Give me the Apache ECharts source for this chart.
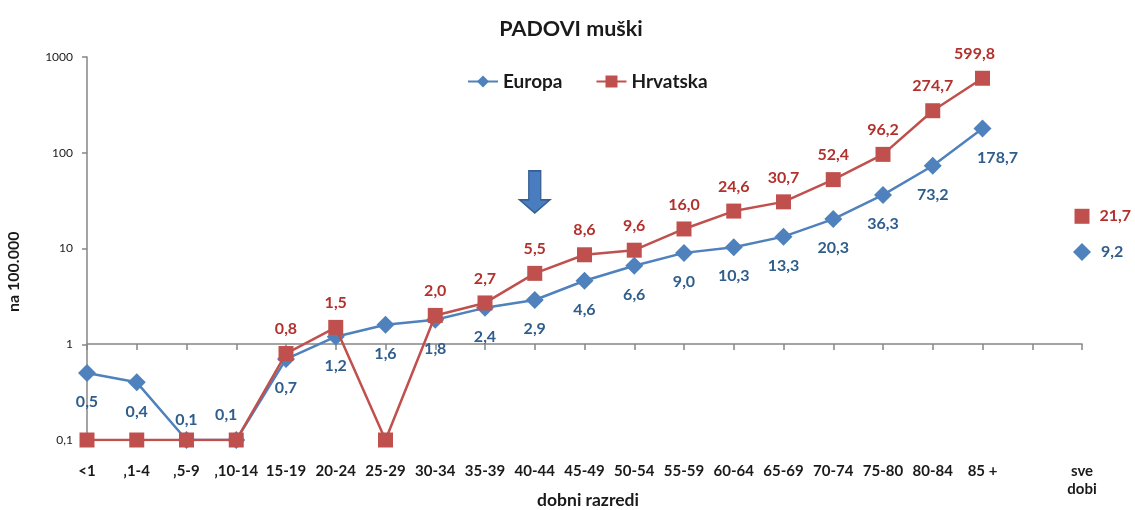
<!DOCTYPE html>
<html>
<head>
<meta charset="utf-8">
<title>PADOVI muški</title>
<script src="https://cdn.jsdelivr.net/npm/echarts@6/dist/echarts.min.js"></script>
<style>
  html, body { margin: 0; padding: 0; background: #fff; }
  #chart { width: 1135px; height: 510px; }
</style>
</head>
<body>
<div id="chart"></div>
<script>
// Age groups (an empty slot separates the "all ages" point)
const categories = ['<1', '\u201A1-4', '\u201A5-9', '\u201A10-14', '15-19', '20-24', '25-29', '30-34', '35-39',
  '40-44', '45-49', '50-54', '55-59', '60-64', '65-69', '70-74', '75-80', '80-84', '85 +', '', 'sve\ndobi'];

// Fall deaths per 100 000, males
const europa = [0.5, 0.4, 0.1, 0.1, 0.7, 1.2, 1.6, 1.8, 2.4, 2.9, 4.6, 6.6, 9.0, 10.3, 13.3, 20.3, 36.3, 73.2, 178.7, null, 9.2];
const hrvatska = [0.1, 0.1, 0.1, 0.1, 0.8, 1.5, 0.1, 2.0, 2.7, 5.5, 8.6, 9.6, 16.0, 24.6, 30.7, 52.4, 96.2, 274.7, 599.8, null, 21.7];

// Hrvatska points at the axis floor carry no value label
const hrvatskaUnlabeled = [0, 1, 2, 3, 6];

// Highlight arrow over the 40-44 group
const arrowCategory = '40-44';
const arrowValue = 39;

const FONT = 'Lato, "Open Sans", sans-serif';
const BLUE = '#4f81bd';
const RED = '#c0504d';
const BLUE_TXT = '#2f5d8c';
const RED_TXT = '#b3312d';
const LAST = categories.length - 1;

const fmt = v => v.toFixed(1).replace('.', ',');

const baseLabel = color => ({
  show: true,
  color: color,
  fontFamily: FONT,
  fontWeight: 'bold',
  fontSize: 16,
  formatter: p => fmt(p.value)
});

// Per-point label placement tweaks
const europaData = europa.map((v, i) => {
  if (v === null) return null;
  const label = {};
  if (i === 2) { label.position = 'top'; label.distance = 3; }
  if (i === 3) { label.position = 'top'; label.distance = 8; label.offset = [-10, 0]; }
  if (i === 18) { label.offset = [15, 0]; }
  if (i === LAST) { label.position = 'right'; label.distance = 10; }
  return { value: v, label: label };
});

const hrvatskaData = hrvatska.map((v, i) => {
  if (v === null) return null;
  const label = {};
  if (hrvatskaUnlabeled.includes(i)) label.show = false;
  if (i === 18) { label.offset = [-8, 0]; }
  if (i === LAST) { label.position = 'right'; label.distance = 10; }
  return { value: v, label: label };
});

const chart = echarts.init(document.getElementById('chart'), null, { renderer: 'canvas' });

chart.setOption({
  animation: false,
  backgroundColor: '#fff',
  title: [
    {
      text: 'PADOVI muški',
      left: 566, top: 13, textAlign: 'center',
      textStyle: { fontFamily: FONT, fontWeight: 'bold', fontSize: 21.5, color: '#1a1a1a' }
    },
    {
      text: 'dobni razredi',
      left: 583, top: 486, textAlign: 'center',
      textStyle: { fontFamily: FONT, fontWeight: 'bold', fontSize: 17.5, color: '#1a1a1a' }
    }
  ],
  legend: {
    top: 67,
    left: 462,
    itemGap: 33,
    itemWidth: 30,
    itemHeight: 15,
    textStyle: { fontFamily: FONT, fontWeight: 'bold', fontSize: 19, color: '#1a1a1a' },
    data: ['Europa', 'Hrvatska']
  },
  graphic: [
    {
      type: 'text',
      x: 14, y: 312,
      rotation: Math.PI / 2,
      style: {
        text: 'na 100.000',
        font: 'bold 16px ' + FONT,
        fill: '#1a1a1a',
        textAlign: 'left',
        textVerticalAlign: 'middle'
      }
    }
  ],
  grid: { left: 87, right: 53, top: 57, bottom: 70, containLabel: false },
  xAxis: [
    {
      // axis line drawn through 1 with tick marks
      type: 'category',
      data: categories,
      boundaryGap: false,
      position: 'bottom',
      offset: -96,
      axisLine: { show: true, onZero: false, lineStyle: { color: '#868686', width: 1.5 } },
      axisTick: { show: true, length: 6, inside: false, lineStyle: { color: '#868686', width: 1.5 } },
      axisLabel: { show: false },
      splitLine: { show: false }
    },
    {
      // category labels along the bottom
      type: 'category',
      data: categories,
      boundaryGap: false,
      position: 'bottom',
      axisLine: { show: false, onZero: false },
      axisTick: { show: false },
      axisLabel: {
        show: true,
        interval: 0,
        margin: 22,
        fontFamily: FONT,
        fontWeight: 'bold',
        fontSize: 15,
        lineHeight: 18,
        color: '#1a1a1a'
      },
      splitLine: { show: false }
    }
  ],
  yAxis: {
    type: 'log',
    logBase: 10,
    min: 0.1,
    max: 1000,
    axisLine: { show: true, lineStyle: { color: '#868686', width: 1.5 } },
    axisTick: { show: true, length: 5, lineStyle: { color: '#868686', width: 1.5 } },
    axisLabel: {
      margin: 14,
      fontFamily: FONT,
      fontSize: 12,
      color: '#1a1a1a',
      formatter: v => (v < 1 ? String(v).replace('.', ',') : String(v))
    },
    splitLine: { show: false },
    minorTick: { show: false }
  },
  series: [
    {
      name: 'Europa',
      type: 'line',
      data: europaData,
      connectNulls: false,
      symbol: 'diamond',
      symbolSize: 18,
      color: BLUE,
      itemStyle: { color: BLUE },
      lineStyle: { color: BLUE, width: 2.5 },
      label: Object.assign(baseLabel(BLUE_TXT), { position: 'bottom', distance: 12 }),
      markPoint: {
        symbol: 'path://M9,0 L21,0 L21,29 L30,29 L15,42 L0,29 L9,29 Z',
        symbolSize: [30, 42],
        itemStyle: { color: '#4a7cc0', borderColor: '#355f94', borderWidth: 1.5 },
        label: { show: false },
        data: [{ coord: [arrowCategory, arrowValue] }]
      },
      z: 2
    },
    {
      name: 'Hrvatska',
      type: 'line',
      data: hrvatskaData,
      connectNulls: false,
      symbol: 'rect',
      symbolSize: 15,
      color: RED,
      itemStyle: { color: RED },
      lineStyle: { color: RED, width: 2.5 },
      label: Object.assign(baseLabel(RED_TXT), { position: 'top', distance: 9 }),
      z: 3
    }
  ]
});
</script>
</body>
</html>
